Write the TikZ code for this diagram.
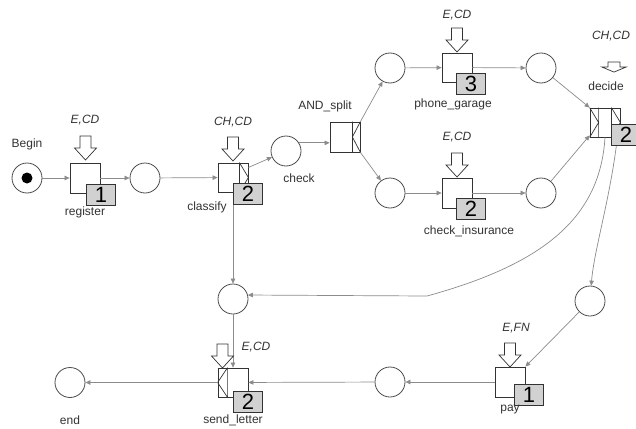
\documentclass[tikz,border=0pt]{standalone}
\usepackage{fontspec}
\setmainfont{Liberation Sans}
\usetikzlibrary{arrows.meta,calc}
\begin{document}
\begin{tikzpicture}[x=1pt,y=-1pt,
  place/.style={circle,draw=black!70,line width=0.8pt,minimum size=30pt,inner sep=0pt,fill=white},
  task/.style={rectangle,draw=black!80,line width=0.8pt,minimum width=30pt,minimum height=30pt,inner sep=0pt,fill=white},
  deco/.style={draw=black!80,line width=0.7pt},
  arc/.style={draw=black!45,line width=0.7pt,-{Triangle[length=5pt,width=4.5pt]}},
  lbl/.style={font=\fontsize{12}{14}\selectfont,text=black!80,inner sep=0pt},
  res/.style={font=\fontsize{12}{14}\selectfont\itshape,text=black!80,inner sep=0pt},
  num/.style={draw=black!80,line width=0.8pt,fill=black!18,minimum width=29pt,minimum height=21pt,inner sep=0pt,font=\fontsize{22}{22}\selectfont,anchor=north west},
  resarrow/.pic={\draw[black!80,line width=0.7pt,fill=white] (-5.5,0) -- (5.5,0) -- (5.5,12) -- (11,12) -- (0,24) -- (-11,12) -- (-5.5,12) -- cycle;}
]
\useasboundingbox (0,0) rectangle (636,428);
\fill[white] (0,0) rectangle (636,428);

% places
\node[place] (begin) at (27,178) {};
\fill[black] (begin.center) circle[radius=5.5pt];
\node[place] (p1) at (145,178) {};
\node[place] (check) at (286,151) {};
\node[place] (p3) at (390,68) {};
\node[place] (p4) at (541,68) {};
\node[place] (p5) at (390,193) {};
\node[place] (p6) at (541,193) {};
\node[place] (pll) at (233,299) {};
\node[place] (pr) at (590,301) {};
\node[place] (p7) at (390,382) {};
\node[place] (endp) at (70,382.5) {};

% tasks
\node[task] (register) at (85,178) {};
\node[task,minimum height=29pt] (classify) at (233,177.5) {};
\node[task] (andsplit) at (345,137) {};
\node[task,minimum height=29pt] (phone) at (457,67.5) {};
\node[task] (checkins) at (457,193) {};
\node[task,minimum height=29pt] (decide) at (605,122.5) {};
\node[task] (pay) at (510,382) {};
\node[task,minimum height=29pt] (send) at (233,382.5) {};

% decorators
\draw[deco] ($(classify.north east)+(-9,0)$) -- ($(classify.south east)+(-9,0)$)
            ($(classify.north east)+(-9,0)$) -- (classify.east) -- ($(classify.south east)+(-9,0)$);
\draw[deco] ($(andsplit.north east)+(-8,0)$) -- ($(andsplit.south east)+(-8,0)$)
            (andsplit.north east) -- ($(andsplit.east)+(-8,0)$) -- (andsplit.south east);
\draw[deco] ($(decide.north west)+(9,0)$) -- ($(decide.south west)+(9,0)$)
            (decide.north west) -- ($(decide.west)+(9,0)$) -- (decide.south west);
\draw[deco] ($(decide.north east)+(-9,0)$) -- ($(decide.south east)+(-9,0)$)
            ($(decide.north east)+(-9,0)$) -- (decide.east) -- ($(decide.south east)+(-9,0)$);
\draw[deco] ($(send.north west)+(10,0)$) -- ($(send.south west)+(10,0)$)
            ($(send.north west)+(10,0)$) -- (send.west) -- ($(send.south west)+(10,0)$);

% arcs
\draw[arc] (begin) -- (register);
\draw[arc] (register) -- (p1);
\draw[arc] (p1) -- (classify);
\draw[arc] ($(classify.east)+(0,-10)$) -- (check);
\draw[arc] (check.32) -- (check.32 -| andsplit.west);
\draw[arc] (andsplit.north east) -- (p3);
\draw[arc] (andsplit.south east) -- (p5);
\draw[arc] (p3) -- (phone);
\draw[arc] (phone) -- (p4);
\draw[arc] (p5) -- (checkins);
\draw[arc] (checkins) -- (p6);
\draw[arc] (p4) -- (decide.north west);
\draw[arc] (p6) -- ($(decide.south west)+(0,-2)$);
\draw[arc] (decide.south) .. controls (600,220) and (540,265) .. (427,296) -- (pll.15);
\draw[arc] ($(decide.south east)+(-3,0)$) .. controls (610,200) and (594,250) .. (pr);
\draw[arc] (pr) -- (pay.north east);
\draw[arc] (pay) -- (p7);
\draw[arc] (p7) -- (send);
\draw[arc] (send) -- (endp);
\draw[arc] (classify) -- (pll);
\draw[arc] (pll) -- (send);

% resource arrows
\pic at (85.5,136) {resarrow};
\pic at (233,137) {resarrow};
\pic at (457,28) {resarrow};
\pic at (457,153) {resarrow};
\pic[xscale=1.1,yscale=0.42] at (614,62) {resarrow};
\pic at (510,343) {resarrow};
\pic at (222.5,344) {resarrow};

% number boxes
\node[num] (n1) at (86,184) {1};
\node[num] (n2) at (233,183) {2};
\node[num] (n3) at (456,73) {3};
\node[num] (n4) at (456,198) {2};
\node[num] (n5) at (611,124) {2};
\node[num] (n6) at (514,384) {1};
\node[num] (n7) at (233,391) {2};

% labels
\node[lbl] (lbegin) at (27,144) {Begin};
\node[lbl] (lreg) at (85,212) {register};
\node[lbl] (lclass) at (207,207) {classify};
\node[lbl] (lcheck) at (299,178) {check};
\node[lbl] (land) at (325,106) {AND\_split};
\node[lbl] (lphone) at (453,104) {phone\_garage};
\node[lbl] (lci) at (469,231) {check\_insurance};
\node[lbl] (ldec) at (606,86) {decide};
\node[lbl] (lpay) at (510,410) {pay};
\node[lbl] (lsend) at (233,420) {send\_letter};
\node[lbl] (lend) at (70,420) {end};

\node[res] (r1) at (85,120) {E,CD};
\node[res] (r2) at (233,122) {CH,CD};
\node[res] (r3) at (457,15) {E,CD};
\node[res] (r4) at (457,137) {E,CD};
\node[res] (r5) at (611,36) {CH,CD};
\node[res] (r6) at (516,328) {E,FN};
\node[res] (r7) at (256,347) {E,CD};
\end{tikzpicture}
\end{document}
